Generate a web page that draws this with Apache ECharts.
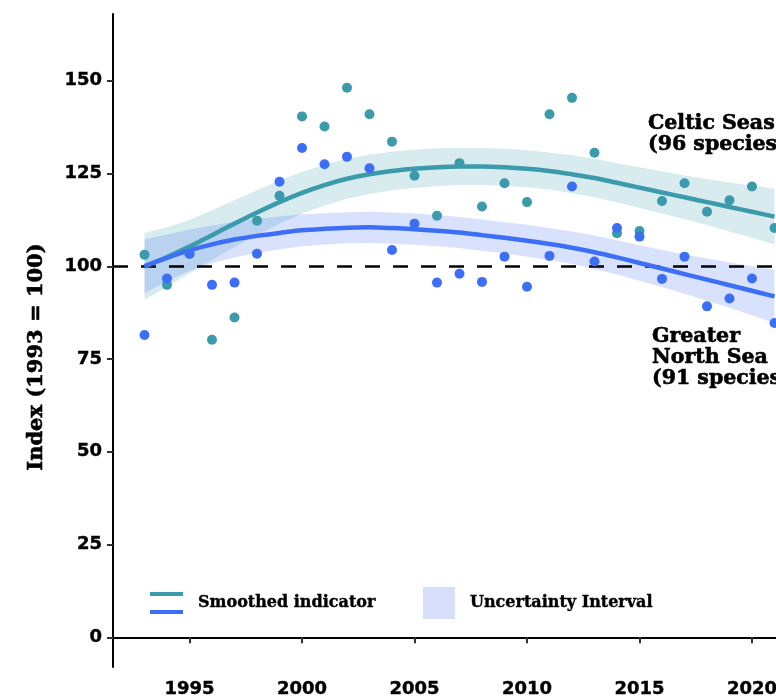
<!DOCTYPE html>
<html>
<head>
<meta charset="utf-8">
<script src="https://cdn.jsdelivr.net/npm/echarts@6/dist/echarts.min.js"></script>
<style>
  html, body { margin: 0; padding: 0; overflow: hidden; background: #fff; }
  #chart { width: 900px; height: 700px; }
</style>
</head>
<body>
<div id="chart"></div>
<script>
// Survey years
const years = [1993, 1994, 1995, 1996, 1997, 1998, 1999, 2000, 2001, 2002,
  2003, 2004, 2005, 2006, 2007, 2008, 2009, 2010, 2011, 2012,
  2013, 2014, 2015, 2016, 2017, 2018, 2019, 2020, 2021];

// Celtic Seas (96 species): annual index and smoothed indicator with interval
const celticIndex = [103.1, 95.0, 103.5, 80.2, 86.2, 112.3, 119.0, 140.4, 137.7, 148.1,
  141.0, 133.6, 124.4, 113.6, 127.8, 116.1, 122.4, 117.3, 141.0, 145.4,
  130.6, 108.9, 109.5, 117.6, 122.4, 114.7, 117.8, 121.5, 110.3];
const celticSmooth = [100.0, 102.5, 105.3, 108.4, 111.5, 114.5, 117.3, 119.8, 121.9, 123.6,
  124.8, 125.7, 126.3, 126.7, 126.9, 126.9, 126.7, 126.3, 125.7, 124.8,
  123.8, 122.5, 121.2, 119.9, 118.6, 117.3, 116.0, 114.7, 113.4];
const celticUpper = [109.0, 110.5, 112.5, 115.1, 117.8, 120.5, 123.1, 125.4, 127.4, 129.0,
  130.1, 130.9, 131.5, 131.8, 131.9, 131.9, 131.7, 131.3, 130.7, 129.9,
  129.0, 127.8, 126.7, 125.6, 124.5, 123.5, 122.6, 121.7, 120.9];
const celticLower = [91.0, 94.5, 98.1, 101.7, 105.2, 108.5, 111.5, 114.2, 116.4, 118.2,
  119.5, 120.5, 121.1, 121.6, 121.9, 121.9, 121.7, 121.3, 120.7, 119.7,
  118.6, 117.2, 115.7, 114.2, 112.7, 111.1, 109.4, 107.7, 105.9];

// Greater North Sea (91 species)
const gnsIndex = [81.5, 96.7, 103.3, 95.0, 95.6, 103.4, 122.8, 131.9, 127.5, 129.5,
  126.4, 104.4, 111.5, 95.6, 98.0, 95.8, 102.6, 94.5, 102.8, 121.5,
  101.3, 110.3, 108.0, 96.6, 102.6, 89.2, 91.3, 96.7, 84.7];
const gnsSmooth = [100.0, 102.3, 104.3, 105.9, 107.2, 108.2, 109.0, 109.7, 110.1, 110.4,
  110.5, 110.3, 110.0, 109.6, 109.1, 108.4, 107.7, 106.9, 106.0, 105.0,
  103.8, 102.4, 100.9, 99.4, 97.9, 96.4, 94.9, 93.4, 91.9];
const gnsUpper = [107.2, 108.6, 109.9, 111.0, 112.0, 112.8, 113.4, 114.0, 114.3, 114.6,
  114.7, 114.5, 114.2, 113.8, 113.3, 112.6, 111.9, 111.2, 110.3, 109.4,
  108.3, 107.0, 105.7, 104.4, 103.2, 102.1, 101.0, 100.0, 99.1];
const gnsLower = [92.8, 96.0, 98.7, 100.8, 102.4, 103.6, 104.6, 105.4, 105.9, 106.2,
  106.3, 106.1, 105.8, 105.4, 104.9, 104.2, 103.5, 102.6, 101.7, 100.6,
  99.3, 97.8, 96.1, 94.4, 92.6, 90.7, 88.8, 86.8, 84.7];

// Axis ticks
const xTicks = [1995, 2000, 2005, 2010, 2015, 2020];
const yTicks = [0, 25, 50, 75, 100, 125, 150];
const baseline = 100;

const TEAL = '#3b9aab';
const BLUE = '#3d6ff6';
const SERIF = '"DejaVu Serif", serif';
const SANS = '"DejaVu Sans", sans-serif';

const pairs = (ys) => years.map((y, i) => [y, ys[i]]);

// Filled interval between the upper and lower curves
function bandSeries(upper, lower, fill) {
  return {
    type: 'custom',
    silent: true,
    clip: true,
    data: [[years[0], upper[0]]],
    encode: { x: 0, y: 1 },
    renderItem: function (params, api) {
      const pts = [];
      for (let i = 0; i < years.length; i++) pts.push(api.coord([years[i], upper[i]]));
      for (let i = years.length - 1; i >= 0; i--) pts.push(api.coord([years[i], lower[i]]));
      return { type: 'polygon', shape: { points: pts }, style: { fill: fill } };
    },
    z: 1
  };
}

// Heavy black text used for titles, notes and legend
function heavyText(text, size, extra) {
  return Object.assign({
    text: text, fill: '#000', font: 'bold ' + size + 'px ' + SERIF,
    stroke: '#000', lineWidth: 0.6
  }, extra || {});
}

const chart = echarts.init(document.getElementById('chart'), null, { renderer: 'canvas' });

const tickLabel = {
  margin: 13,
  formatter: (v) => String(v),
  color: '#000', fontFamily: SANS, fontWeight: 'bold', fontSize: 18,
  textBorderColor: '#000', textBorderWidth: 0.4
};

chart.setOption({
  animation: false,
  backgroundColor: '#fff',
  grid: { left: 113, right: 94, top: 14, bottom: 33, containLabel: false },
  xAxis: {
    type: 'value',
    min: 1991.6,
    max: 2022.4,
    splitLine: { show: false },
    axisLine: { lineStyle: { color: '#000', width: 2 } },
    axisTick: { customValues: xTicks, length: 6, lineStyle: { color: '#333', width: 2 } },
    axisLabel: Object.assign({ customValues: xTicks }, tickLabel)
  },
  yAxis: {
    type: 'value',
    min: -8,
    max: 168,
    splitLine: { show: false },
    axisLine: { show: true, lineStyle: { color: '#000', width: 2 } },
    axisTick: { show: true, customValues: yTicks, length: 6, lineStyle: { color: '#333', width: 2 } },
    axisLabel: Object.assign({}, tickLabel, { customValues: yTicks, margin: 11 })
  },
  series: [
    bandSeries(celticUpper, celticLower, 'rgba(59,154,171,0.2)'),
    Object.assign(bandSeries(gnsUpper, gnsLower, 'rgba(61,111,246,0.2)'), {
      markLine: {
        silent: true,
        symbol: 'none',
        label: { show: false },
        lineStyle: { color: '#000', width: 2.5, type: [15, 13] },
        data: [{ yAxis: baseline }],
        z: 2
      }
    }),
    {
      name: 'Celtic Seas', type: 'line', data: pairs(celticSmooth), smooth: 0.3,
      showSymbol: false, lineStyle: { color: TEAL, width: 4.5 }, z: 3, silent: true
    },
    {
      name: 'Greater North Sea', type: 'line', data: pairs(gnsSmooth), smooth: 0.3,
      showSymbol: false, lineStyle: { color: BLUE, width: 4.5 }, z: 3, silent: true
    },
    {
      type: 'scatter', data: pairs(celticIndex), symbolSize: 10,
      itemStyle: { color: TEAL, opacity: 1 }, z: 4
    },
    {
      type: 'scatter', data: pairs(gnsIndex), symbolSize: 10,
      itemStyle: { color: BLUE, opacity: 1 }, z: 5
    }
  ],
  graphic: [
    {
      type: 'text', x: 37, y: 357, rotation: Math.PI / 2,
      style: heavyText('Index (1993 = 100)', 21, { align: 'center', verticalAlign: 'middle' })
    },
    {
      type: 'text', x: 648, y: 113,
      style: heavyText('Celtic Seas\n(96 species)', 20.5, { lineHeight: 21, align: 'left', verticalAlign: 'top' })
    },
    {
      type: 'text', x: 652, y: 326,
      style: heavyText('Greater\nNorth Sea\n(91 species)', 20.5, { lineHeight: 21, align: 'left', verticalAlign: 'top' })
    },
    // legend
    { type: 'rect', shape: { x: 150, y: 592, width: 33, height: 4 }, style: { fill: TEAL } },
    { type: 'rect', shape: { x: 150, y: 610, width: 33, height: 4 }, style: { fill: BLUE } },
    {
      type: 'text', x: 198, y: 603,
      style: heavyText('Smoothed indicator', 16, { verticalAlign: 'middle', lineWidth: 0.4 })
    },
    { type: 'rect', shape: { x: 423, y: 587, width: 32, height: 32 }, style: { fill: '#d6defa' } },
    {
      type: 'text', x: 470, y: 603,
      style: heavyText('Uncertainty Interval', 16, { verticalAlign: 'middle', lineWidth: 0.4 })
    }
  ]
});
</script>
</body>
</html>
